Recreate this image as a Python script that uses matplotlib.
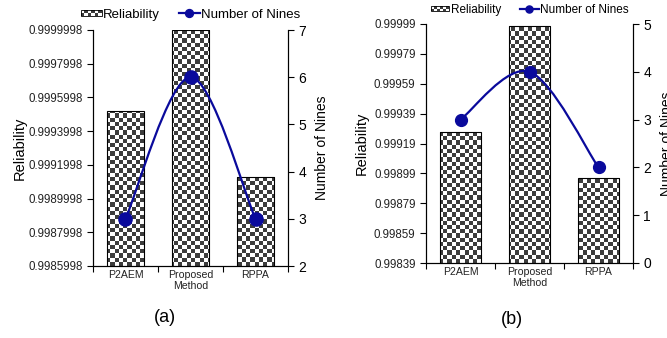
import matplotlib
matplotlib.use('Agg')
import matplotlib.pyplot as plt
import numpy as np
from matplotlib.path import Path
from matplotlib.patches import PathPatch, Rectangle
from matplotlib.legend_handler import HandlerBase
from matplotlib.lines import Line2D
from matplotlib.ticker import FormatStrFormatter

plt.rcParams['font.family'] = ['Liberation Sans', 'DejaVu Sans']

# data
methods = ['P2AEM', 'Proposed\nMethod', 'RPPA']

rel_a = [0.9995193, 0.9999998, 0.9991295]
nines_a = [3, 6, 3]
rel_b = [0.999267, 0.999977, 0.998959]
nines_b = [3, 4, 2]

ylim_a = (0.9985998, 0.9999998)
ylim_b = (0.99839, 0.99999)
y2lim_a = (2, 7)
y2lim_b = (0, 5)

DARK = '#3c3c3c'
BLUE = '#0a0a9c'


def smooth_path(xs, ys):
    # excel-like smoothed line: bezier through the points
    pts = np.column_stack([xs, ys]).astype(float)
    n = len(pts)
    verts = [pts[0]]
    codes = [Path.MOVETO]
    for i in range(n - 1):
        p0 = pts[i - 1] if i > 0 else pts[i]
        p1 = pts[i]
        p2 = pts[i + 1]
        p3 = pts[i + 2] if i + 2 < n else pts[i + 1]
        c1 = p1 + (p2 - p0) / 6
        c2 = p2 - (p3 - p1) / 6
        verts += [c1, c2, p2]
        codes += [Path.CURVE4] * 3
    return Path(verts, codes)


class CheckerHandler(HandlerBase):
    def create_artists(self, legend, orig_handle, xdescent, ydescent,
                       width, height, fontsize, trans):
        h = height * 0.7
        y0 = -ydescent + (height - h) / 2
        nx, ny = 6, 2
        cw, ch = width / nx, h / ny
        arts = [Rectangle((-xdescent, y0), width, h, facecolor='white',
                          edgecolor='none', transform=trans)]
        for i in range(nx):
            for j in range(ny):
                if (i + j) % 2 == 0:
                    arts.append(Rectangle((-xdescent + i * cw, y0 + j * ch), cw, ch,
                                          facecolor=DARK, edgecolor='none',
                                          transform=trans))
        arts.append(Rectangle((-xdescent, y0), width, h, facecolor='none',
                              edgecolor='black', lw=0.6, transform=trans))
        return arts


def panel(fig, rect, rel, nines, ylim, y2lim, barw, fmt, msize, legsize,
          colsp, lpad):
    ax = fig.add_axes(rect)
    x = np.arange(len(methods))
    bars = ax.bar(x, rel, width=barw, facecolor='none', edgecolor='black',
                  lw=0.8, zorder=3)
    ax.set_xlim(-0.5, len(methods) - 0.5)
    ax.set_ylim(*ylim)

    # checker fill clipped to each bar
    fig.canvas.draw()
    bb = ax.get_window_extent()
    nx = int(round(bb.width / 4.2))
    ny = int(round(bb.height / 4.2))
    checker = (np.indices((ny, nx)).sum(axis=0) % 2).astype(float)
    for b in bars:
        im = ax.imshow(checker, cmap=matplotlib.colors.ListedColormap(['white', DARK]),
                       extent=(0, 1, 0, 1), transform=ax.transAxes,
                       interpolation='nearest', aspect='auto', zorder=2)
        im.set_clip_path(b)
    ax.set_xlim(-0.5, len(methods) - 0.5)
    ax.set_ylim(*ylim)

    ax.set_yticks(np.linspace(ylim[0], ylim[1], int(round((ylim[1] - ylim[0]) / 0.0002)) + 1))
    ax.yaxis.set_major_formatter(FormatStrFormatter(fmt))
    ax.tick_params(axis='y', direction='out', length=4, labelsize=8.3, width=0.8,
                   labelcolor='#222222')
    ax.set_xticks(np.arange(-0.5, len(methods)))
    ax.set_xticklabels([])
    ax.set_xticks(x, minor=True)
    ax.set_xticklabels(methods, minor=True, fontsize=7.6, color='#222222',
                       linespacing=1.1)
    ax.tick_params(axis='x', which='major', direction='out', length=4, width=0.8)
    ax.tick_params(axis='x', which='minor', length=0, pad=3)
    ax.spines['top'].set_visible(False)
    ax.set_ylabel('Reliability', fontsize=10.5, labelpad=lpad)

    ax2 = ax.twinx()
    ax2.set_ylim(*y2lim)
    ax2.add_patch(PathPatch(smooth_path(x, nines), facecolor='none',
                            edgecolor=BLUE, lw=1.6, zorder=3))
    ax2.plot(x, nines, 'o', color=BLUE, ms=msize, zorder=4)
    ax2.set_yticks(np.arange(y2lim[0], y2lim[1] + 1))
    ax2.tick_params(axis='y', direction='out', length=4, labelsize=10, width=0.8)
    ax2.spines['top'].set_visible(False)
    ax2.set_ylabel('Number of Nines', fontsize=10, labelpad=6)

    for a in (ax, ax2):
        for s in a.spines.values():
            s.set_linewidth(0.8)

    hl = Line2D([], [], color=BLUE, lw=1.6, marker='o', ms=msize * 0.6)
    ax2.legend([bars, hl], ['Reliability', 'Number of Nines'],
               handler_map={type(bars): CheckerHandler()},
               loc='lower center', bbox_to_anchor=(0.5, 1.0), ncol=2,
               frameon=False, fontsize=legsize, handlelength=1.6,
               handletextpad=0.1, columnspacing=colsp, borderaxespad=0.3)
    return ax


fig = plt.figure(figsize=(6.67, 3.38), dpi=100)

panel(fig, [93 / 667, 72 / 338, 195 / 667, 236 / 338], rel_a, nines_a,
      ylim_a, y2lim_a, 0.58, '%.7f', 9.5, 9.5, 1.4, 1)
panel(fig, [426 / 667, 75 / 338, 207 / 667, 239 / 338], rel_b, nines_b,
      ylim_b, y2lim_b, 0.6, '%.5f', 8.5, 8.5, 1.6, 4)

fig.text(165 / 667, 1 - 318 / 338, '(a)', ha='center', va='center', fontsize=13)
fig.text(512 / 667, 1 - 320 / 338, '(b)', ha='center', va='center', fontsize=13)

fig.savefig('out.png', dpi=100)
